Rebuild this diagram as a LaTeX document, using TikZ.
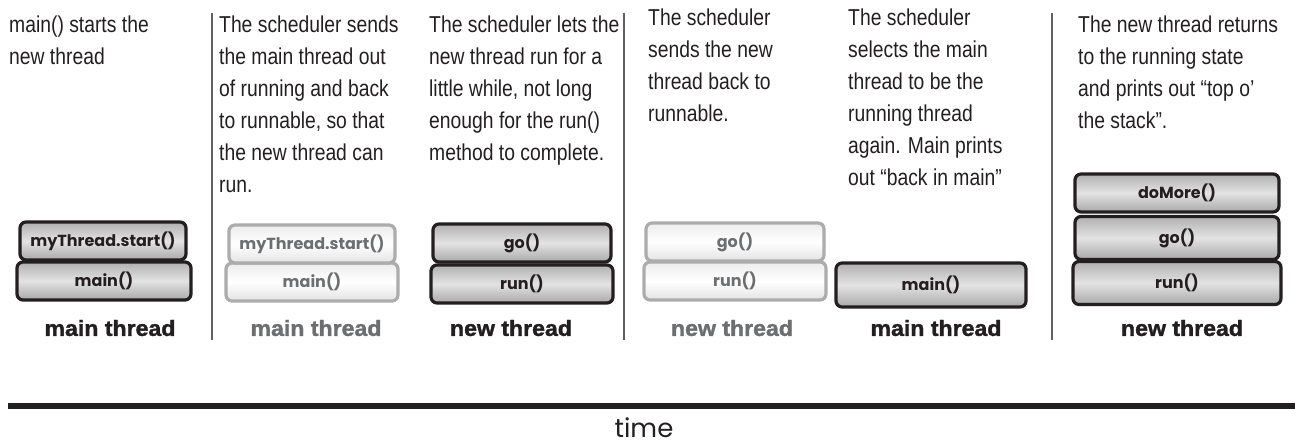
\documentclass[tikz,border=0pt]{standalone}
\usepackage{fontspec}
\setmainfont{Liberation Sans}[FakeStretch=0.84]
\newfontfamily\labelfont{Liberation Sans}[FakeStretch=1.05,FakeBold=1.6]
\newfontfamily\handfont{Poppins}
\definecolor{inkblack}{RGB}{35,31,32}
\definecolor{fadegray}{RGB}{109,110,112}
\definecolor{rulegray}{RGB}{96,96,96}
\tikzset{
  colnote/.style={anchor=north west,inner sep=0pt,align=left,text=inkblack,
    font=\fontsize{23}{32}\selectfont},
  stackbox/.style={draw=inkblack,line width=3.2pt,rounded corners=6pt,
    top color=gray!62,bottom color=gray!68,middle color=gray!22,inner sep=0pt,
    minimum height=38pt,text=inkblack,font=\handfont\bfseries\fontsize{16}{16}\selectfont},
  stackfaded/.style={stackbox,draw=gray!65,top color=gray!15,bottom color=gray!22,
    middle color=white,text=fadegray},
  thread/.style={inner sep=0pt,text=inkblack,font=\labelfont\bfseries\fontsize{22}{22}\selectfont},
  colrule/.style={rulegray,line width=2.2pt}
}
\begin{document}
\begin{tikzpicture}[x=1pt,y=-1pt]
\useasboundingbox (0,0) rectangle (1295,446);
\node[colnote] (noteA) at (9,16) {main() starts the\\new thread};
\node[colnote] (noteB) at (219,16) {The scheduler sends\\the main thread out\\of running and back\\to runnable, so that\\the new thread can\\run.};
\node[colnote] (noteC) at (429,16) {The scheduler lets the\\new thread run for a\\little while, not long\\enough for the run()\\method to complete.};
\node[colnote] (noteD) at (648,9) {The scheduler\\sends the new\\thread back to\\runnable.};
\node[colnote] (noteE) at (848,9) {The scheduler\\selects the main\\thread to be the\\running thread\\again. Main prints\\out “back in main”};
\node[colnote] (noteF) at (1078,16) {The new thread returns\\to the running state\\and prints out “top o’\\the stack”.};
\draw[colrule] (212,13) -- (212,340);
\draw[colrule] (624,13) -- (624,340);
\draw[colrule] (1052,13) -- (1052,340);
\node[stackbox,minimum width=174pt] (mainA) at (104,281) {main()};
\node[stackbox,minimum width=166pt] (startA) at (103,241) {myThread.start()};
\node[stackfaded,minimum width=172pt] (mainB) at (312,282) {main()};
\node[stackfaded,minimum width=166pt] (startB) at (312,244) {myThread.start()};
\node[stackbox,minimum width=182pt] (runC) at (522,284) {run()};
\node[stackbox,minimum width=178pt] (goC) at (522,243) {go()};
\node[stackfaded,minimum width=182pt] (runD) at (735,281) {run()};
\node[stackfaded,minimum width=178pt] (goD) at (735,242) {go()};
\node[stackbox,minimum width=190pt,minimum height=44pt] (mainE) at (931,285) {main()};
\node[stackbox,minimum width=208pt,minimum height=43pt] (runF) at (1177,283) {run()};
\node[stackbox,minimum width=204pt,minimum height=43pt] (goF) at (1177,238) {go()};
\node[stackbox,minimum width=204pt,minimum height=38pt] (moreF) at (1177,193) {doMore()};
\node[thread] (labA) at (110,328) {main thread};
\node[thread,text=fadegray] (labB) at (316,328) {main thread};
\node[thread] (labC) at (511,328) {new thread};
\node[thread,text=fadegray] (labD) at (732,328) {new thread};
\node[thread] (labE) at (936,328) {main thread};
\node[thread] (labF) at (1182,328) {new thread};
\fill[inkblack] (8,403) rectangle (1295,408.5);
\node[inner sep=0pt,text=inkblack,font=\handfont\fontsize{26}{26}\selectfont] (timeword) at (644,428) {time};
\end{tikzpicture}
\end{document}
